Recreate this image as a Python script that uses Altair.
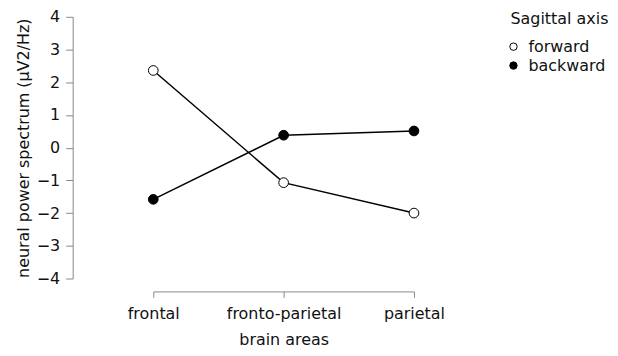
import altair as alt
import pandas as pd

areas = ["frontal", "fronto-parietal", "parietal"]
forward = [2.36, -1.07, -2.00]
backward = [-1.58, 0.38, 0.51]
series = ["forward", "backward"]

rows = []
for name, vals in zip(series, [forward, backward]):
    for a, v in zip(areas, vals):
        rows.append({"area": a, "value": v, "axis": name})
df = pd.DataFrame(rows)

FONT = "DejaVu Sans"

x = alt.X("area:N", sort=areas, title="brain areas",
          scale=alt.Scale(type="point", padding=0),
          axis=alt.Axis(labelAngle=0, offset=13, tickSize=6, labelPadding=8,
                        titlePadding=10, domainColor="#888", tickColor="#888",
                        labelColor="#111", titleColor="#111", grid=False))
y = alt.Y("value:Q", title="neural power spectrum (µV2/Hz)",
          scale=alt.Scale(domain=[-4, 4], nice=False, zero=False),
          axis=alt.Axis(values=list(range(-4, 5)), offset=81, tickSize=7,
                        labelPadding=6, titlePadding=5, domainColor="#888",
                        tickColor="#888", labelColor="#111", titleColor="#111",
                        grid=False))

lines = alt.Chart(df).mark_line(color="black", strokeWidth=1.5).encode(
    x=x, y=y, detail="axis:N"
)
points = alt.Chart(df).mark_point(filled=False, size=95, stroke="black",
                                  strokeWidth=1, opacity=1).encode(
    x=x, y=y,
    fill=alt.Fill("axis:N", sort=series,
                  scale=alt.Scale(domain=series, range=["white", "black"]),
                  legend=alt.Legend(title="Sagittal axis",
                                    orient="none",
                                    legendX=359, legendY=-6,
                                    symbolOffset=-5,
                                    symbolStrokeColor="black",
                                    symbolStrokeWidth=1, symbolSize=55,
                                    titleFontWeight="normal", titleFontSize=16,
                                    labelFontSize=16, titleColor="#111",
                                    labelColor="#111", rowPadding=3,
                                    titlePadding=12, labelOffset=7)),
)

chart = alt.layer(lines, points).properties(
    width=262, height=263,
    padding={"left": 146, "top": 8, "right": 197, "bottom": 70},
    autosize=alt.AutoSizeParams(type="none"),
).configure_view(stroke=None).configure_axis(
    labelFont=FONT, titleFont=FONT, labelFontSize=16, titleFontSize=16,
    titleFontWeight="normal"
).configure_legend(labelFont=FONT, titleFont=FONT)

chart.save("out.html", embed_options={"renderer": "svg", "actions": False})
